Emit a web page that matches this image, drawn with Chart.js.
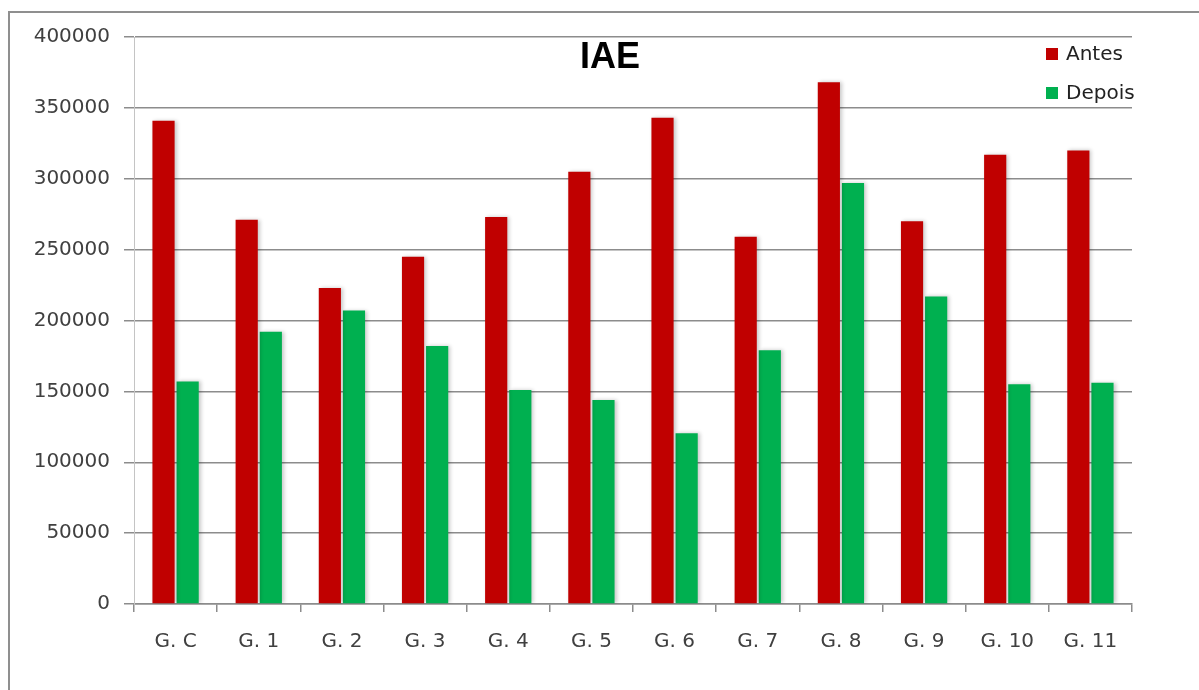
<!DOCTYPE html>
<html>
<head>
<meta charset="utf-8">
<title>IAE</title>
<script src="https://cdn.jsdelivr.net/npm/chart.js"></script>
<style>
  html, body { margin: 0; padding: 0; background: #fff; overflow: hidden; }
  #frame {
    position: absolute; left: 8px; top: 11px; width: 1300px; height: 800px;
    border-left: 2px solid #8f8f8f; border-top: 2px solid #8f8f8f;
  }
  #chart { position: absolute; left: 0; top: 0; }
</style>
</head>
<body>
<div id="frame"></div>
<canvas id="chart" width="1199" height="690"></canvas>
<script>
// data
const chartTitle = 'IAE';
const categories = ['G. C', 'G. 1', 'G. 2', 'G. 3', 'G. 4', 'G. 5', 'G. 6', 'G. 7', 'G. 8', 'G. 9', 'G. 10', 'G. 11'];
const seriesNames = ['Antes', 'Depois'];
const antes = [341000, 271000, 223000, 245000, 273000, 305000, 343000, 259000, 368000, 270000, 317000, 320000];
const depois = [157000, 192000, 207000, 182000, 151000, 144000, 120500, 179000, 297000, 217000, 155000, 156000];
const yMax = 400000;
const yStep = 50000;

const colors = ['#C00000', '#00B050'];
const fontFamily = '"DejaVu Sans", "Open Sans", sans-serif';

// soft shadow to the right of the bars, like the office chart
const barShadow = {
    id: 'barShadow',
    beforeDatasetsDraw(chart) {
        const ctx = chart.ctx;
        ctx.save();
        ctx.shadowColor = 'rgba(0,0,0,0.22)';
        ctx.shadowBlur = 4;
        ctx.shadowOffsetX = 2;
        ctx.shadowOffsetY = 0;
    },
    afterDatasetsDraw(chart) {
        chart.ctx.restore();
    }
};

// title and legend sit inside the plot area
const overlay = {
    id: 'overlay',
    afterDraw(chart) {
        const ctx = chart.ctx;
        const area = chart.chartArea;
        ctx.save();
        ctx.fillStyle = '#000';
        ctx.font = 'bold 36px "Liberation Sans", Arial, sans-serif';
        ctx.textAlign = 'center';
        ctx.textBaseline = 'middle';
        ctx.fillText(chartTitle, area.left + (area.right - area.left) * 0.477, area.top + 21);

        ctx.font = '20px ' + fontFamily;
        ctx.textAlign = 'left';
        chart.data.datasets.forEach((ds, i) => {
            const y = area.top + 17 + i * 39;
            const x = area.right - 86;
            ctx.fillStyle = ds.backgroundColor;
            ctx.fillRect(x, y - 6, 12, 12);
            ctx.fillStyle = '#222';
            ctx.fillText(ds.label, x + 20, y + 1);
        });
        ctx.restore();
    }
};

new Chart(document.getElementById('chart').getContext('2d'), {
    type: 'bar',
    data: {
        labels: categories,
        datasets: [
            { label: seriesNames[0], data: antes, backgroundColor: colors[0] },
            { label: seriesNames[1], data: depois, backgroundColor: colors[1] }
        ]
    },
    options: {
        responsive: false,
        animation: false,
        layout: { padding: { left: 0, right: 67, top: 37, bottom: 18 } },
        datasets: {
            bar: { categoryPercentage: 0.58, barPercentage: 0.92 }
        },
        plugins: {
            legend: { display: false },
            title: { display: false },
            tooltip: { enabled: false }
        },
        scales: {
            x: {
                offset: true,
                grid: {
                    display: true,
                    drawOnChartArea: false,
                    drawTicks: true,
                    tickLength: 8,
                    color: '#8c8c8c',
                    lineWidth: 1.5
                },
                border: { display: true, color: '#8c8c8c', width: 1.5 },
                ticks: {
                    color: '#404040',
                    font: { family: fontFamily, size: 20 },
                    padding: 18,
                    maxRotation: 0
                }
            },
            y: {
                min: 0,
                max: yMax,
                afterFit(scale) { scale.width = 134; },
                ticks: {
                    stepSize: yStep,
                    color: '#404040',
                    font: { family: fontFamily, size: 20 },
                    padding: 14,
                    callback: v => String(v)
                },
                grid: {
                    color: '#8c8c8c',
                    lineWidth: 1.5,
                    tickLength: 10
                },
                border: { display: true, color: '#c4c4c4', width: 1 }
            }
        }
    },
    plugins: [barShadow, overlay]
});
</script>
</body>
</html>
